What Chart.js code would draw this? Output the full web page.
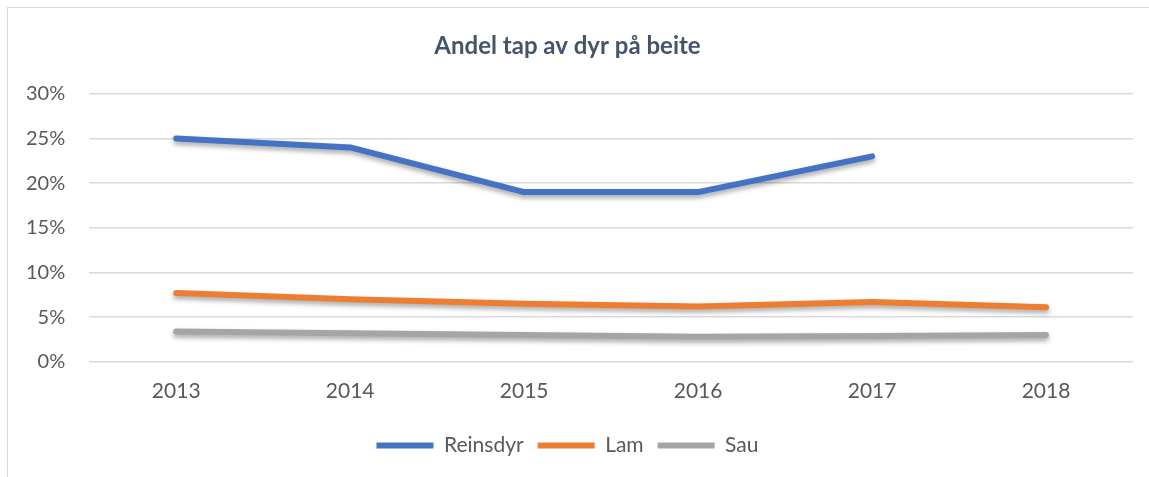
<!DOCTYPE html>
<html>
<head>
<meta charset="utf-8">
<script src="https://cdn.jsdelivr.net/npm/chart.js@4.4.1/dist/chart.umd.min.js"></script>
<style>
    body { margin: 0; background: #fff; overflow: hidden; }
    #ramme {
        position: absolute; left: 7px; top: 7px;
        width: 1200px; height: 520px;
        border: 1px solid #d9d9d9;
    }
    #wrap { position: absolute; left: 0; top: 0; width: 1149px; height: 477px; }
</style>
</head>
<body>
<div id="ramme"></div>
<div id="wrap"><canvas id="myChart"></canvas></div>
<script>
// Data
const aar = ['2013', '2014', '2015', '2016', '2017', '2018'];
const reinsdyr = [25, 24, 19, 19, 23, null];
const lam = [7.7, 7.0, 6.5, 6.2, 6.7, 6.1];
const sau = [3.4, 3.2, 3.0, 2.8, 2.9, 3.0];
const yTicks = [0, 5, 10, 15, 20, 25, 30];

const tekstFarge = '#595959';
const fontFamilie = 'Lato, "Open Sans", sans-serif';

// skygge under linjene
const skygge = {
    id: 'skygge',
    beforeDatasetsDraw(chart) {
        const c = chart.ctx;
        c.save();
        c.shadowColor = 'rgba(0,0,0,0.35)';
        c.shadowBlur = 5;
        c.shadowOffsetY = 3;
    },
    afterDatasetsDraw(chart) {
        chart.ctx.restore();
    }
};

function serie(label, data, farge) {
    return {
        label: label,
        data: data,
        borderColor: farge,
        backgroundColor: farge,
        borderWidth: 6,
        borderCapStyle: 'round',
        borderJoinStyle: 'round',
        pointRadius: 0,
        pointHoverRadius: 0,
        pointStyle: 'line',
        tension: 0,
        spanGaps: false
    };
}

const ctx = document.getElementById('myChart');

new Chart(ctx, {
    type: 'line',
    data: {
        labels: aar,
        datasets: [
            serie('Reinsdyr', reinsdyr, '#4472C4'),
            serie('Lam', lam, '#ED7D31'),
            serie('Sau', sau, '#A5A5A5')
        ]
    },
    plugins: [skygge],
    options: {
        responsive: true,
        maintainAspectRatio: false,
        animation: false,
        layout: {
            padding: { left: 2, right: 16, top: 0, bottom: 11 }
        },
        plugins: {
            title: {
                display: true,
                text: 'Andel tap av dyr på beite',
                color: '#44546A',
                font: { family: fontFamilie, size: 24, weight: 'bold' },
                padding: { top: 32, bottom: 33 }
            },
            legend: {
                position: 'bottom',
                labels: {
                    color: tekstFarge,
                    font: { family: fontFamilie, size: 21 },
                    usePointStyle: true,
                    pointStyleWidth: 57,
                    boxHeight: 21,
                    padding: 14
                }
            },
            tooltip: { enabled: false }
        },
        scales: {
            x: {
                offset: true,
                grid: { display: false, drawTicks: false },
                border: { display: false },
                ticks: {
                    color: tekstFarge,
                    font: { family: fontFamilie, size: 21 },
                    padding: 17,
                    maxRotation: 0
                }
            },
            y: {
                min: 0,
                max: 30,
                afterBuildTicks: axis => {
                    axis.ticks = yTicks.map(v => ({ value: v }));
                },
                grid: { color: '#d9d9d9', lineWidth: 1.5, drawTicks: false },
                border: { display: false },
                ticks: {
                    color: tekstFarge,
                    font: { family: fontFamilie, size: 20 },
                    padding: 24,
                    callback: v => v + '%'
                }
            }
        }
    }
});
</script>
</body>
</html>
